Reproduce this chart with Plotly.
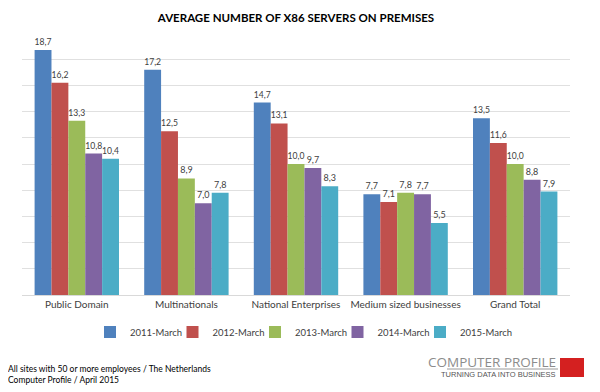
import plotly.graph_objects as go

categories = ["Public Domain", "Multinationals", "National Enterprises", "Medium sized businesses", "Grand Total"]
series_names = ["2011-March", "2012-March", "2013-March", "2014-March", "2015-March"]
v2011 = [18.7, 17.2, 14.7, 7.7, 13.5]
v2012 = [16.2, 12.5, 13.1, 7.1, 11.6]
v2013 = [13.3, 8.9, 10.0, 7.8, 10.0]
v2014 = [10.8, 7.0, 9.7, 7.7, 8.8]
v2015 = [10.4, 7.8, 8.3, 5.5, 7.9]
series_values = [v2011, v2012, v2013, v2014, v2015]
colors = ["#4F81BD", "#C0504D", "#9BBB59", "#8064A2", "#4BACC6"]

FONT = "Lato, 'Open Sans', sans-serif"

fig = go.Figure()
for name, vals, col in zip(series_names, series_values, colors):
    fig.add_trace(go.Bar(
        x=categories, y=vals, name=name,
        marker=dict(color=col, line=dict(width=0)),
        text=[f"{v:.1f}".replace(".", ",") for v in vals],
        textposition="outside", cliponaxis=False,
        textfont=dict(size=9, color="#404040", family=FONT),
    ))
# invisible spacer entry so the last legend label is not clipped
fig.add_trace(go.Scatter(x=[categories[0]], y=[None], mode="markers", name="",
                         marker=dict(color="rgba(0,0,0,0)", size=1, opacity=0,
                                     line=dict(width=0, color="rgba(0,0,0,0)")),
                         opacity=0, hoverinfo="skip", showlegend=True))

# The page body adds an 8px offset; work in figure pixel coordinates.
W, H = 592, 384
L, R, T, B = 14, 562, 25, 287   # plot area in figure pixels
def px(x):
    return (x - L) / (R - L)
def py(y):
    return (B - y) / (B - T)

fig.update_layout(
    width=W, height=H,
    margin=dict(l=L, r=W - R, t=T, b=H - B, autoexpand=False),
    paper_bgcolor="white", plot_bgcolor="white",
    barmode="group", bargap=0.23, bargroupgap=0,
    font=dict(family=FONT, color="#404040"),
    title=dict(text="<b>AVERAGE NUMBER OF X86 SERVERS ON PREMISES</b>",
               x=0.5, xref="paper", xanchor="center",
               y=1 - 9.5 / H, yanchor="middle",
               font=dict(size=11.5, color="#000000", family=FONT)),
    yaxis=dict(range=[0, 20], dtick=2, showticklabels=False,
               showgrid=True, gridcolor="#E0E0E0", gridwidth=1,
               zeroline=True, zerolinecolor="#D9D9D9", zerolinewidth=1,
               showline=False, fixedrange=True, automargin=False),
    xaxis=dict(showline=False, ticks="", tickangle=0, automargin=False,
               tickfont=dict(size=10, color="#404040"),
               ticklabelstandoff=2),
    legend=dict(orientation="h", x=82 / W, xanchor="left", xref="container",
                y=1 - 324 / H, yanchor="middle", yref="container",
                bgcolor="rgba(0,0,0,0)",
                font=dict(size=9.5, color="#404040"),
                itemwidth=30, entrywidth=37.5, entrywidthmode="pixels",
                traceorder="normal"),
    showlegend=True,
)

# footer text
fig.add_annotation(text="All sites with 50 or more employees / The Netherlands<br>Computer Profile / April 2015",
                   xref="paper", yref="paper", x=px(-2), y=py(366), xanchor="left", yanchor="middle",
                   align="left", showarrow=False, font=dict(size=8.5, color="#000000", family=FONT))

# logo
fig.add_annotation(text="COMPUTER PROFILE", xref="paper", yref="paper",
                   x=px(550), y=py(354), xanchor="right", yanchor="middle", showarrow=False,
                   font=dict(size=13.5, color="#8C8C8C", family="'Liberation Sans Narrow', 'Open Sans', sans-serif"))
fig.add_annotation(text="TURNING DATA INTO BUSINESS", xref="paper", yref="paper",
                   x=px(550), y=py(366.5), xanchor="right", yanchor="middle", showarrow=False,
                   font=dict(size=7.5, color="#555555", family="'Liberation Sans Narrow', sans-serif"))
fig.add_shape(type="line", xref="paper", yref="paper",
              x0=px(439), x1=px(550), y0=py(361), y1=py(361),
              line=dict(color="#9A9A9A", width=1))
fig.add_shape(type="rect", xref="paper", yref="paper",
              x0=px(552), x1=px(576), y0=py(350), y1=py(369),
              fillcolor="#D42020", line=dict(width=0))

fig.write_html("out.html")
